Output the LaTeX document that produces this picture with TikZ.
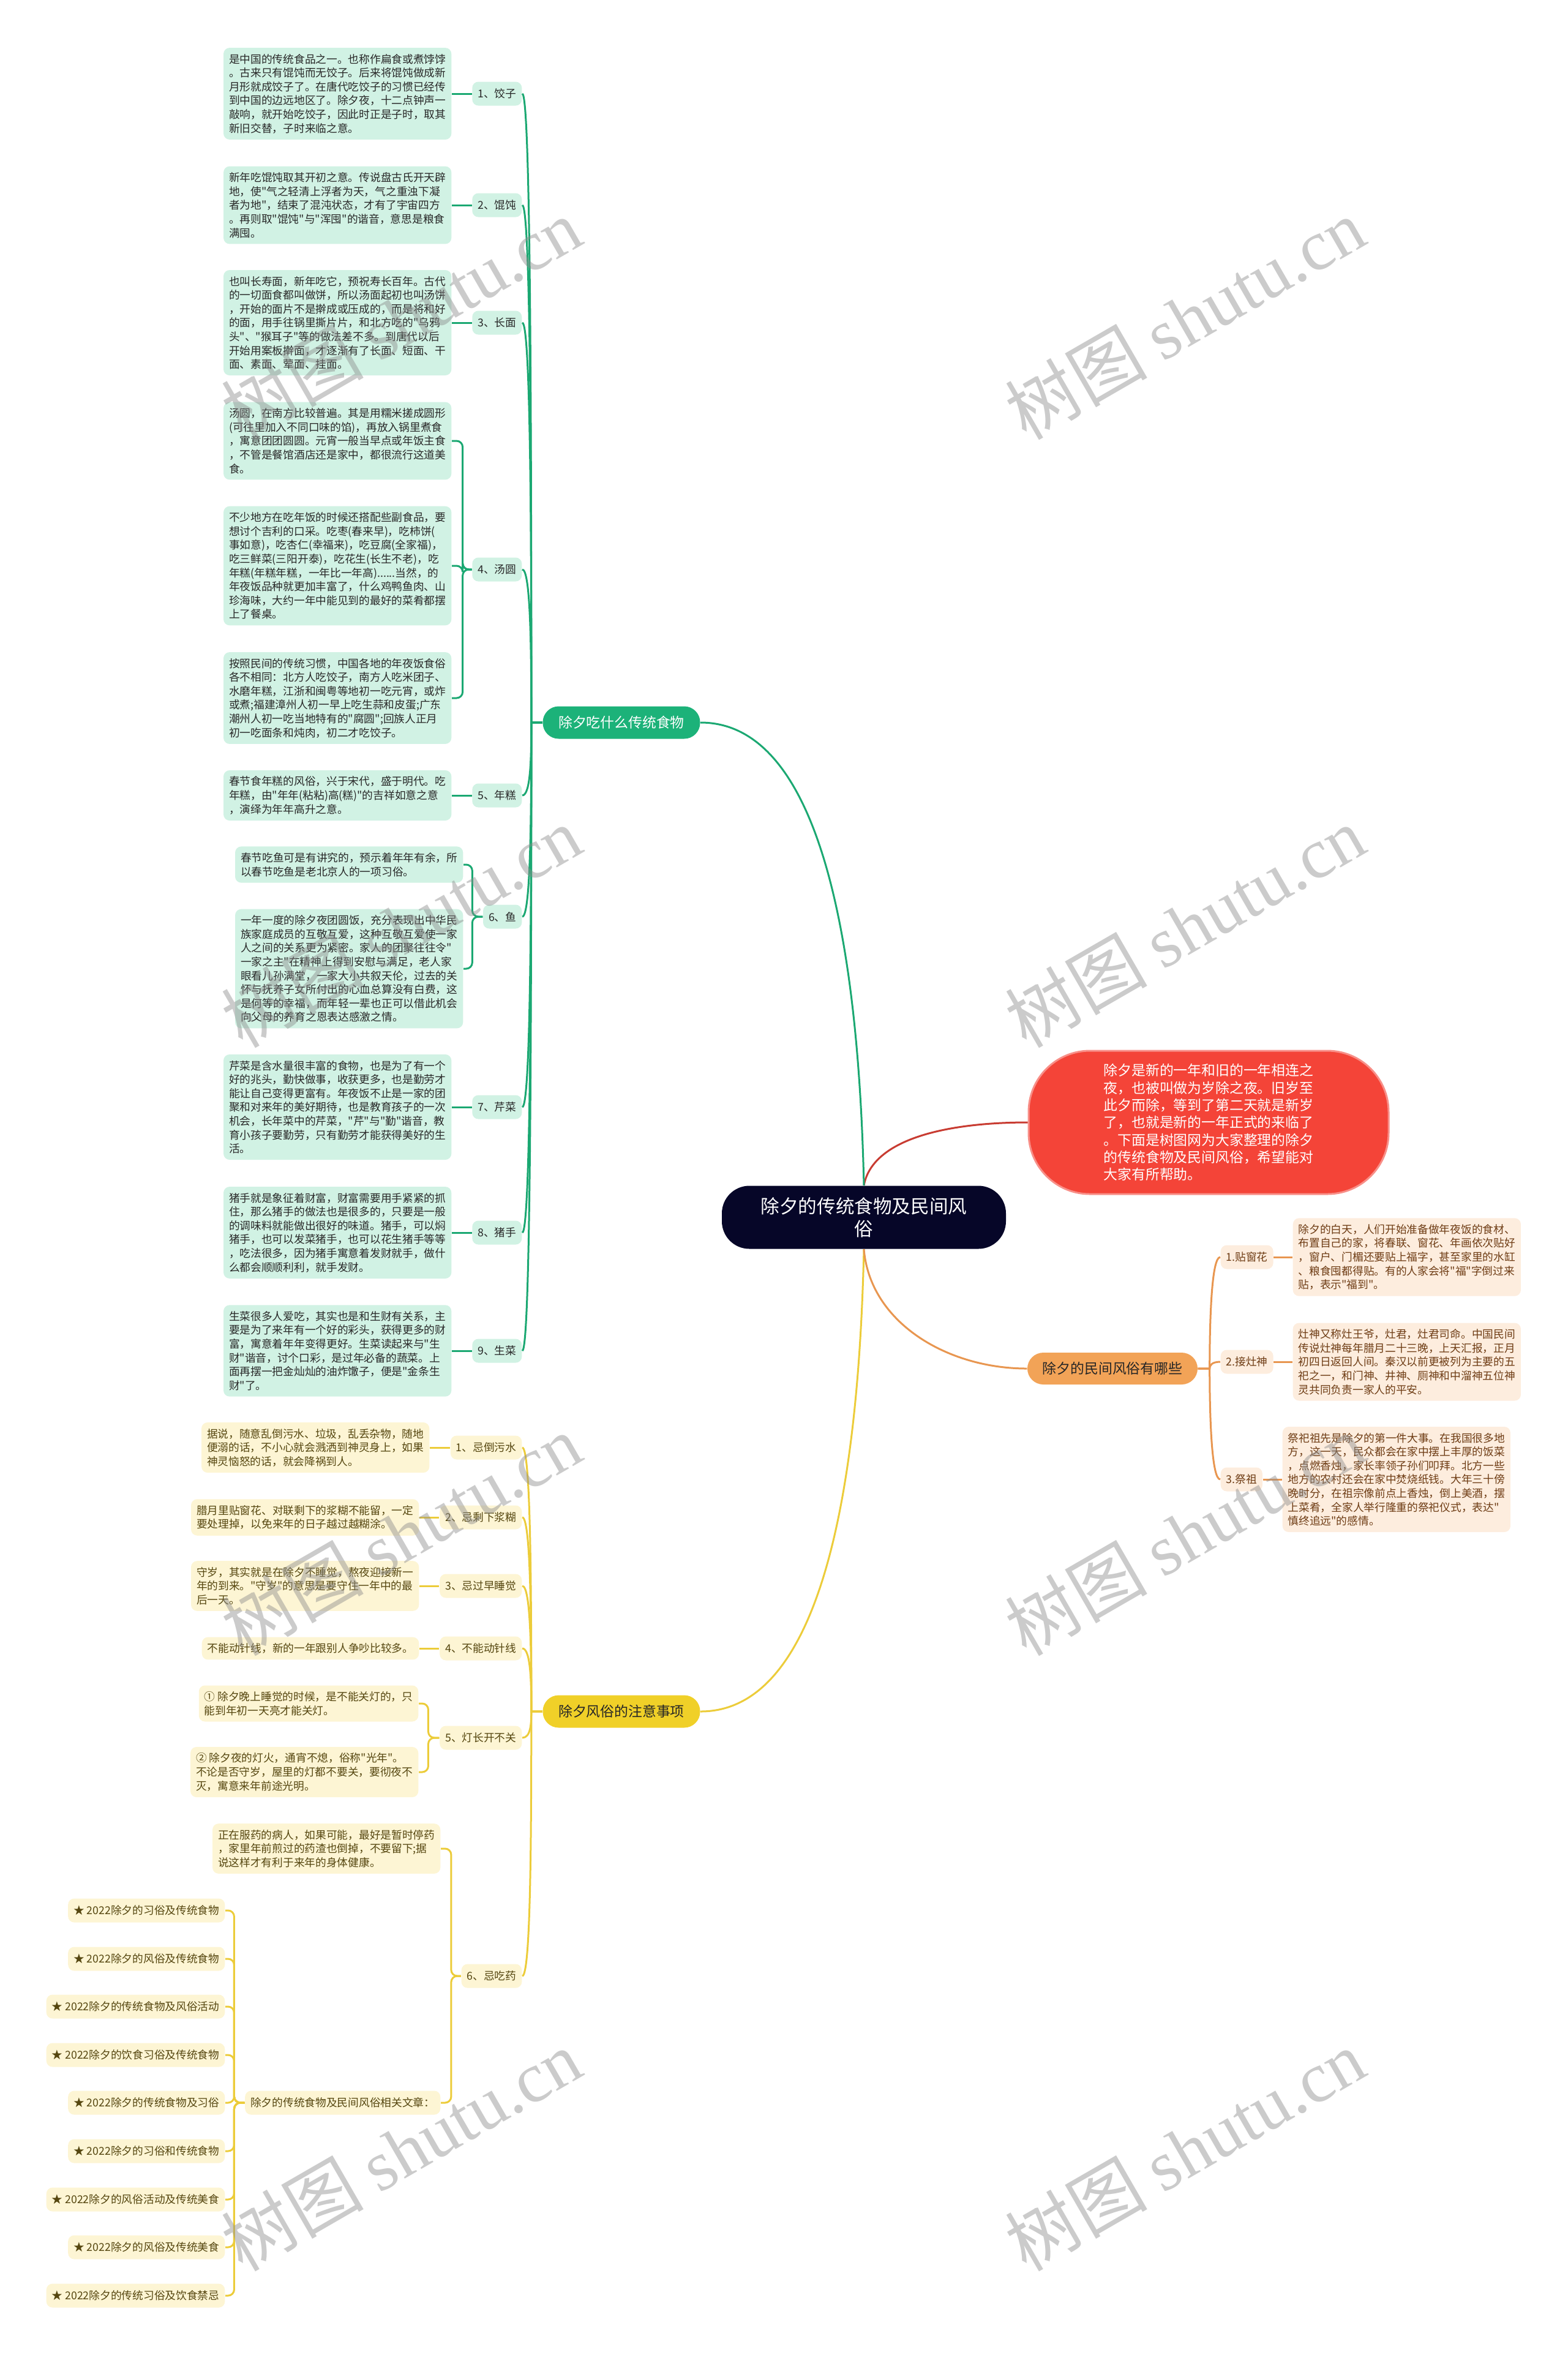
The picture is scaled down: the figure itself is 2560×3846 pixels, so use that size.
\documentclass[tikz,border=0pt]{standalone}
\usepackage{fontspec}
\setmainfont{Noto Sans CJK SC}[Ligatures=TeXOff]
\newfontfamily\wmlatin{Liberation Serif}

\definecolor{mintfill}{RGB}{209,242,228}
\definecolor{creamfill}{RGB}{253,245,212}
\definecolor{peachfill}{RGB}{253,237,222}
\definecolor{greenline}{RGB}{27,168,114}
\definecolor{greentopic}{RGB}{28,178,121}
\definecolor{yellowline}{RGB}{236,204,58}
\definecolor{yellowtopic}{RGB}{240,208,40}
\definecolor{orangeline}{RGB}{232,150,80}
\definecolor{orangetopic}{RGB}{242,163,87}
\definecolor{introred}{RGB}{244,68,56}
\definecolor{redline}{RGB}{200,60,50}
\definecolor{rootnavy}{RGB}{6,6,40}
\definecolor{leaftext}{RGB}{40,40,40}
\definecolor{olivetext}{RGB}{85,70,15}
\definecolor{browntext}{RGB}{110,60,20}

\newcommand{\leaffont}{\fontsize{5.04pt}{6.43pt}\selectfont}
\newcommand{\topicfont}{\fontsize{6.5pt}{8pt}\selectfont}
\newcommand{\rootfont}{\fontsize{8.7pt}{10.5pt}\selectfont}
\newcommand{\introfont}{\fontsize{6.5pt}{8.05pt}\selectfont}
\newcommand{\wmfont}{\fontsize{33pt}{40pt}\selectfont}

\begin{document}
\begin{tikzpicture}[x=0.1mm,y=-0.1mm,
  gleaf/.style={fill=mintfill,text=leaftext,rounded corners=1mm,inner xsep=0.9mm,inner ysep=1mm,align=left,font=\leaffont,anchor=east},
  glabel/.style={gleaf,minimum height=3.9mm},
  yleaf/.style={gleaf,fill=creamfill,text=olivetext},
  ylabel/.style={yleaf,minimum height=3.9mm},
  oleaf/.style={gleaf,fill=peachfill,text=browntext,anchor=west},
  olabel/.style={oleaf,minimum height=3.9mm},
  gline/.style={draw=greenline,line width=0.3mm},
  yline/.style={draw=yellowline,line width=0.3mm},
  oline/.style={draw=orangeline,line width=0.3mm},
  bracket/.style={rounded corners=1mm},
  topicbox/.style={rounded corners=2.6mm,minimum width=25.7mm,minimum height=5.3mm,font=\topicfont,inner sep=0pt},
  wmark/.style={text=black!45,opacity=0.45,rotate=30,font=\wmfont}]
  \useasboundingbox (0,0) rectangle (2560,3846);

  % centre and intro
  \node[fill=rootnavy,text=white,rounded corners=4.5mm,minimum width=46.4mm,minimum height=10.3mm,align=center,font=\rootfont] (root) at (1411,1988) {除夕的传统食物及民间风\\俗};
  \node[fill=introred,draw=introred!60!white,line width=0.3mm,text=white,rounded corners=10mm,minimum width=58.8mm,minimum height=23.4mm,align=left,font=\introfont] (intro) at (1974,1833) {除夕是新的一年和旧的一年相连之\\夜，也被叫做为岁除之夜。旧岁至\\此夕而除，等到了第二天就是新岁\\了，也就是新的一年正式的来临了\\。下面是树图网为大家整理的除夕\\的传统食物及民间风俗，希望能对\\大家有所帮助。};

  % main topics
  \node[topicbox,fill=greentopic,text=white] (food) at (1015,1180) {除夕吃什么传统食物};
  \node[topicbox,fill=yellowtopic,text=black!85] (rules) at (1015,2795) {除夕风俗的注意事项};
  \node[topicbox,fill=orangetopic,text=black!85,minimum width=27.8mm,minimum height=5.2mm] (custom) at (1817,2235) {除夕的民间风俗有哪些};

  \draw[draw=redline,line width=0.3mm] (root.north) .. controls +(15,-80) and +(-120,0) .. (intro.west);
  \draw[gline] (root.north) .. controls +(-10,-450) and +(180,0) .. (food.east);
  \draw[yline] (root.south) .. controls +(-10,450) and +(180,0) .. (rules.east);
  \draw[oline] (root.south) .. controls +(10,120) and +(-130,0) .. (custom.west);

  % food branch
  \node[gleaf] (f1t) at (738,153) {是中国的传统食品之一。也称作扁食或煮饽饽\\。古来只有馄饨而无饺子。后来将馄饨做成新\\月形就成饺子了。在唐代吃饺子的习惯已经传\\到中国的边远地区了。除夕夜，十二点钟声一\\敲响，就开始吃饺子，因此时正是子时，取其\\新旧交替，子时来临之意。};
  \node[glabel] (f1) at (853,153) {1、饺子};
  \node[gleaf] (f2t) at (738,335) {新年吃馄饨取其开初之意。传说盘古氏开天辟\\地，使"气之轻清上浮者为天，气之重浊下凝\\者为地"，结束了混沌状态，才有了宇宙四方\\。再则取"馄饨"与"浑囤"的谐音，意思是粮食\\满囤。};
  \node[glabel] (f2) at (853,335) {2、馄饨};
  \node[gleaf] (f3t) at (738,527) {也叫长寿面，新年吃它，预祝寿长百年。古代\\的一切面食都叫做饼，所以汤面起初也叫汤饼\\，开始的面片不是擀成或压成的，而是将和好\\的面，用手往锅里撕片片，和北方吃的"乌鸦\\头"、"猴耳子"等的做法差不多。到唐代以后\\开始用案板擀面，才逐渐有了长面、短面、干\\面、素面、荤面、挂面。};
  \node[glabel] (f3) at (853,527) {3、长面};
  \node[gleaf] (f4a) at (738,720) {汤圆，在南方比较普遍。其是用糯米搓成圆形\\(可往里加入不同口味的馅)，再放入锅里煮食\\，寓意团团圆圆。元宵一般当早点或年饭主食\\，不管是餐馆酒店还是家中，都很流行这道美\\食。};
  \node[gleaf] (f4b) at (738,924) {不少地方在吃年饭的时候还搭配些副食品，要\\想讨个吉利的口采。吃枣(春来早)，吃柿饼(\\事如意)，吃杏仁(幸福来)，吃豆腐(全家福)，\\吃三鲜菜(三阳开泰)，吃花生(长生不老)，吃\\年糕(年糕年糕，一年比一年高)......当然，的\\年夜饭品种就更加丰富了，什么鸡鸭鱼肉、山\\珍海味，大约一年中能见到的最好的菜肴都摆\\上了餐桌。};
  \node[gleaf] (f4c) at (738,1140) {按照民间的传统习惯，中国各地的年夜饭食俗\\各不相同：北方人吃饺子，南方人吃米团子、\\水磨年糕，江浙和闽粤等地初一吃元宵，或炸\\或煮;福建漳州人初一早上吃生蒜和皮蛋;广东\\潮州人初一吃当地特有的"腐圆";回族人正月\\初一吃面条和炖肉，初二才吃饺子。};
  \node[glabel] (f4) at (853,930) {4、汤圆};
  \node[gleaf] (f5t) at (738,1299) {春节食年糕的风俗，兴于宋代，盛于明代。吃\\年糕，由"年年(粘粘)高(糕)"的吉祥如意之意\\，演绎为年年高升之意。};
  \node[glabel] (f5) at (853,1299) {5、年糕};
  \node[gleaf] (f6a) at (757,1412) {春节吃鱼可是有讲究的，预示着年年有余，所\\以春节吃鱼是老北京人的一项习俗。};
  \node[gleaf] (f6b) at (757,1582) {一年一度的除夕夜团圆饭，充分表现出中华民\\族家庭成员的互敬互爱，这种互敬互爱使一家\\人之间的关系更为紧密。家人的团聚往往令"\\一家之主"在精神上得到安慰与满足，老人家\\眼看儿孙满堂，一家大小共叙天伦，过去的关\\怀与抚养子女所付出的心血总算没有白费，这\\是何等的幸福，而年轻一辈也正可以借此机会\\向父母的养育之恩表达感激之情。};
  \node[glabel] (f6) at (853,1497) {6、鱼};
  \node[gleaf] (f7t) at (738,1808) {芹菜是含水量很丰富的食物，也是为了有一个\\好的兆头，勤快做事，收获更多，也是勤劳才\\能让自己变得更富有。年夜饭不止是一家的团\\聚和对来年的美好期待，也是教育孩子的一次\\机会，长年菜中的芹菜，"芹"与"勤"谐音，教\\育小孩子要勤劳，只有勤劳才能获得美好的生\\活。};
  \node[glabel] (f7) at (853,1808) {7、芹菜};
  \node[gleaf] (f8t) at (738,2013) {猪手就是象征着财富，财富需要用手紧紧的抓\\住，那么猪手的做法也是很多的，只要是一般\\的调味料就能做出很好的味道。猪手，可以焖\\猪手，也可以发菜猪手，也可以花生猪手等等\\，吃法很多，因为猪手寓意着发财就手，做什\\么都会顺顺利利，就手发财。};
  \node[glabel] (f8) at (853,2013) {8、猪手};
  \node[gleaf] (f9t) at (738,2206) {生菜很多人爱吃，其实也是和生财有关系，主\\要是为了来年有一个好的彩头，获得更多的财\\富，寓意着年年变得更好。生菜读起来与"生\\财"谐音，讨个口彩，是过年必备的蔬菜。上\\面再摆一把金灿灿的油炸馓子，便是"金条生\\财"了。};
  \node[glabel] (f9) at (853,2206) {9、生菜};

  \draw[gline] (food.west) -- ++(-18,0) .. controls +(0,-460) and +(14,0) .. (f1.east);
  \draw[gline] (food.west) -- ++(-18,0) .. controls +(0,-380) and +(14,0) .. (f2.east);
  \draw[gline] (food.west) -- ++(-18,0) .. controls +(0,-294) and +(14,0) .. (f3.east);
  \draw[gline] (food.west) -- ++(-18,0) .. controls +(0,-112) and +(14,0) .. (f4.east);
  \draw[gline] (food.west) -- ++(-18,0) .. controls +(0,54) and +(14,0) .. (f5.east);
  \draw[gline] (food.west) -- ++(-18,0) .. controls +(0,143) and +(14,0) .. (f6.east);
  \draw[gline] (food.west) -- ++(-18,0) .. controls +(0,283) and +(14,0) .. (f7.east);
  \draw[gline] (food.west) -- ++(-18,0) .. controls +(0,375) and +(14,0) .. (f8.east);
  \draw[gline] (food.west) -- ++(-18,0) .. controls +(0,462) and +(14,0) .. (f9.east);
  \draw[gline] (f1t.east) -- (f1.west);
  \draw[gline] (f2t.east) -- (f2.west);
  \draw[gline] (f3t.east) -- (f3.west);
  \draw[gline,bracket] (f4.west) -- ++(-15,0) |- (f4a.east);
  \draw[gline,bracket] (f4.west) -- ++(-15,0) |- (f4b.east);
  \draw[gline,bracket] (f4.west) -- ++(-15,0) |- (f4c.east);
  \draw[gline] (f5t.east) -- (f5.west);
  \draw[gline,bracket] (f6.west) -- ++(-17,0) |- (f6a.east);
  \draw[gline,bracket] (f6.west) -- ++(-17,0) |- (f6b.east);
  \draw[gline] (f7t.east) -- (f7.west);
  \draw[gline] (f8t.east) -- (f8.west);
  \draw[gline] (f9t.east) -- (f9.west);

  % rules branch
  \node[yleaf] (y1t) at (702,2364) {据说，随意乱倒污水、垃圾，乱丢杂物，随地\\便溺的话，不小心就会溅洒到神灵身上，如果\\神灵恼怒的话，就会降祸到人。};
  \node[ylabel] (y1) at (853,2364) {1、忌倒污水};
  \node[yleaf] (y2t) at (685,2478) {腊月里贴窗花、对联剩下的浆糊不能留，一定\\要处理掉，以免来年的日子越过越糊涂。};
  \node[ylabel] (y2) at (853,2478) {2、忌剩下浆糊};
  \node[yleaf] (y3t) at (685,2590) {守岁，其实就是在除夕不睡觉，熬夜迎接新一\\年的到来。"守岁"的意思是要守住一年中的最\\后一天。};
  \node[ylabel] (y3) at (853,2590) {3、忌过早睡觉};
  \node[yleaf] (y4t) at (685,2692) {不能动针线，新的一年跟别人争吵比较多。};
  \node[ylabel] (y4) at (853,2692) {4、不能动针线};
  \node[yleaf] (y5a) at (684,2782) {① 除夕晚上睡觉的时候，是不能关灯的，只\\能到年初一天亮才能关灯。};
  \node[yleaf] (y5b) at (684,2894) {② 除夕夜的灯火，通宵不熄，俗称"光年"。\\不论是否守岁，屋里的灯都不要关，要彻夜不\\灭，寓意来年前途光明。};
  \node[ylabel] (y5) at (853,2838) {5、灯长开不关};
  \node[yleaf] (y6t) at (720,3019) {正在服药的病人，如果可能，最好是暂时停药\\，家里年前煎过的药渣也倒掉，不要留下;据\\说这样才有利于来年的身体健康。};
  \node[yleaf,minimum height=3.9mm] (art) at (720,3434) {除夕的传统食物及民间风俗相关文章：};
  \node[ylabel] (y6) at (853,3227) {6、忌吃药};

  \node[ylabel] (a1) at (368,3120) {★ 2022除夕的习俗及传统食物};
  \node[ylabel] (a2) at (368,3199) {★ 2022除夕的风俗及传统食物};
  \node[ylabel] (a3) at (368,3277) {★ 2022除夕的传统食物及风俗活动};
  \node[ylabel] (a4) at (368,3356) {★ 2022除夕的饮食习俗及传统食物};
  \node[ylabel] (a5) at (368,3434) {★ 2022除夕的传统食物及习俗};
  \node[ylabel] (a6) at (368,3513) {★ 2022除夕的习俗和传统食物};
  \node[ylabel] (a7) at (368,3592) {★ 2022除夕的风俗活动及传统美食};
  \node[ylabel] (a8) at (368,3670) {★ 2022除夕的风俗及传统美食};
  \node[ylabel] (a9) at (368,3749) {★ 2022除夕的传统习俗及饮食禁忌};

  \draw[yline] (rules.west) -- ++(-18,0) .. controls +(0,-194) and +(14,0) .. (y1.east);
  \draw[yline] (rules.west) -- ++(-18,0) .. controls +(0,-143) and +(14,0) .. (y2.east);
  \draw[yline] (rules.west) -- ++(-18,0) .. controls +(0,-92) and +(14,0) .. (y3.east);
  \draw[yline] (rules.west) -- ++(-18,0) .. controls +(0,-46) and +(14,0) .. (y4.east);
  \draw[yline] (rules.west) -- ++(-18,0) .. controls +(0,19) and +(14,0) .. (y5.east);
  \draw[yline] (rules.west) -- ++(-18,0) .. controls +(0,194) and +(14,0) .. (y6.east);
  \draw[yline] (y1t.east) -- (y1.west);
  \draw[yline] (y2t.east) -- (y2.west);
  \draw[yline] (y3t.east) -- (y3.west);
  \draw[yline] (y4t.east) -- (y4.west);
  \draw[yline,bracket] (y5.west) -- ++(-18,0) |- (y5a.east);
  \draw[yline,bracket] (y5.west) -- ++(-18,0) |- (y5b.east);
  \draw[yline,bracket] (y6.west) -- ++(-16,0) |- (y6t.east);
  \draw[yline,bracket] (y6.west) -- ++(-16,0) |- (art.east);
  \foreach \i in {1,...,9}
    \draw[yline,bracket] (art.west) -- ++(-17,0) |- (a\i.east);

  % customs branch
  \node[olabel] (o1) at (1993,2053) {1.贴窗花};
  \node[oleaf] (o1t) at (2111,2053) {除夕的白天，人们开始准备做年夜饭的食材、\\布置自己的家，将春联、窗花、年画依次贴好\\，窗户、门楣还要贴上福字，甚至家里的水缸\\、粮食囤都得贴。有的人家会将"福"字倒过来\\贴，表示"福到"。};
  \node[olabel] (o2) at (1993,2224) {2.接灶神};
  \node[oleaf] (o2t) at (2111,2224) {灶神又称灶王爷，灶君，灶君司命。中国民间\\传说灶神每年腊月二十三晚，上天汇报，正月\\初四日返回人间。秦汉以前更被列为主要的五\\祀之一，和门神、井神、厕神和中溜神五位神\\灵共同负责一家人的平安。};
  \node[olabel] (o3) at (1993,2416) {3.祭祖};
  \node[oleaf] (o3t) at (2094,2416) {祭祀祖先是除夕的第一件大事。在我国很多地\\方，这一天，民众都会在家中摆上丰厚的饭菜\\，点燃香烛，家长率领子孙们叩拜。北方一些\\地方的农村还会在家中焚烧纸钱。大年三十傍\\晚时分，在祖宗像前点上香烛，倒上美酒，摆\\上菜肴，全家人举行隆重的祭祀仪式，表达"\\慎终追远"的感情。};

  \draw[oline] (custom.east) -- ++(19,0) .. controls +(0,-82) and +(-14,0) .. (o1.west);
  \draw[oline] (custom.east) -- ++(19,0) .. controls +(0,-5) and +(-14,0) .. (o2.west);
  \draw[oline] (custom.east) -- ++(19,0) .. controls +(0,81) and +(-14,0) .. (o3.west);
  \draw[oline] (o1.east) -- (o1t.west);
  \draw[oline] (o2.east) -- (o2t.west);
  \draw[oline] (o3.east) -- (o3t.west);

  % watermarks
  \node[wmark] (wm1) at (655,520) {树图 {\wmlatin shutu.cn}};
  \node[wmark] (wm2) at (1935,520) {树图 {\wmlatin shutu.cn}};
  \node[wmark] (wm3) at (655,1513) {树图 {\wmlatin shutu.cn}};
  \node[wmark] (wm4) at (1935,1513) {树图 {\wmlatin shutu.cn}};
  \node[wmark] (wm5) at (655,2506) {树图 {\wmlatin shutu.cn}};
  \node[wmark] (wm6) at (1935,2506) {树图 {\wmlatin shutu.cn}};
  \node[wmark] (wm7) at (655,3511) {树图 {\wmlatin shutu.cn}};
  \node[wmark] (wm8) at (1935,3511) {树图 {\wmlatin shutu.cn}};
\end{tikzpicture}
\end{document}
